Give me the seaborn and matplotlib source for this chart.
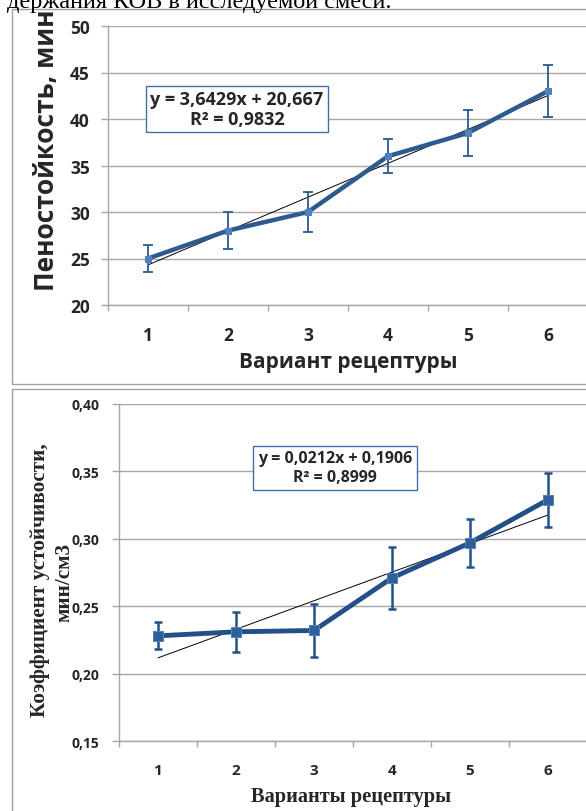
import matplotlib
matplotlib.use("Agg")
import matplotlib.pyplot as plt
import seaborn as sns
from matplotlib.patches import Rectangle
from matplotlib.ticker import FixedLocator, FixedFormatter

# data
variants = [1, 2, 3, 4, 5, 6]
foam = [25, 28, 30, 36, 38.5, 43]            # Пеностойкость, мин
foam_err = [1.5, 2.0, 2.2, 1.8, 2.5, 2.8]
coef = [0.228, 0.231, 0.232, 0.271, 0.297, 0.329]   # Коэффициент устойчивости
coef_err = [0.010, 0.015, 0.020, 0.023, 0.018, 0.020]

top_yticks = [20, 25, 30, 35, 40, 45, 50]
bot_yticks = [0.15, 0.20, 0.25, 0.30, 0.35, 0.40]
bot_ylabels = ["0,15", "0,20", "0,25", "0,30", "0,35", "0,40"]

eq_top = "y = 3,6429x + 20,667\nR² = 0,9832"
eq_bot = "y = 0,0212x + 0,1906\nR² = 0,8999"
caption = "держания КОВ в исследуемой смеси."

sns.set_style("white")
plt.rcParams['font.family'] = ['Open Sans', 'DejaVu Sans']

W, H = 586, 812
fig = plt.figure(figsize=(W / 100, H / 100), dpi=100)

def fx(px):
    return px / W

def fy(py):
    return 1 - py / H

GRID = "#a6a6a6"

# chart area frames
for (x0, y0, x1, y1) in [(12, 10, 590, 385), (12, 390, 590, 815)]:
    fig.patches.append(Rectangle((fx(x0), fy(y1)), fx(x1 - x0), (y1 - y0) / H,
                                 transform=fig.transFigure, fill=False,
                                 ec="#a0a0a0", lw=1.0))

fig.text(fx(7), fy(8), caption, family="Liberation Serif", fontsize=17.5,
         va="baseline", ha="left", color="black")


def style_axes(ax, lab_size, lab_pad, ylab_size, ylab_pad):
    ax.set_xlim(0.5, 6.5)
    for s in ["top", "right"]:
        ax.spines[s].set_visible(False)
    for s in ["left", "bottom"]:
        ax.spines[s].set_color(GRID)
        ax.spines[s].set_linewidth(1.0)
    ax.xaxis.set_major_locator(FixedLocator(variants))
    ax.xaxis.set_minor_locator(FixedLocator([v + 0.5 for v in range(0, 7)]))
    ax.tick_params(axis="x", which="major", length=0, pad=lab_pad,
                   labelsize=lab_size)
    ax.tick_params(axis="x", which="minor", length=4, width=1, color=GRID,
                   direction="out", bottom=True)
    ax.tick_params(axis="y", length=5, width=1, color=GRID, direction="out",
                   left=True, pad=ylab_pad, labelsize=ylab_size)
    ax.yaxis.grid(True, color=GRID, lw=1.0)
    ax.set_axisbelow(True)
    for t in ax.get_xticklabels() + ax.get_yticklabels():
        t.set_fontweight("bold")
    ax.set_xlabel("")
    ax.set_ylabel("")


# ---- top chart ----
ax1 = fig.add_axes([fx(108), fy(306), fx(480), (306 - 27) / H])
sns.regplot(x=variants, y=foam, ax=ax1, scatter=False, ci=None, truncate=True,
            color="black", line_kws={"lw": 0.7})
ax1.errorbar(variants, foam, yerr=foam_err, fmt="none", ecolor="#2b5a8e",
             elinewidth=1.3, capsize=3.5, capthick=1.3)
sns.lineplot(x=variants, y=foam, ax=ax1, color="#2e5b8f", lw=3.2, marker="s",
             markersize=5, markerfacecolor="#4f81bd", markeredgecolor="#4f81bd")
ax1.set_ylim(20, 50)
ax1.yaxis.set_major_locator(FixedLocator(top_yticks))
style_axes(ax1, 12.5, 15, 12.5, 8)

fig.text(fx(47), fy(150), "Пеностойкость, мин", rotation=90, fontsize=19,
         fontweight="bold", ha="center", va="center")
fig.text(fx(348), fy(363), "Вариант рецептуры", fontsize=15,
         fontweight="bold", ha="center", va="center")
fig.text(fx(237), fy(110), eq_top, fontsize=13, fontweight="bold",
         ha="center", va="center", linespacing=1.15,
         bbox=dict(boxstyle="square,pad=0.22", fc="white", ec="#3e6fa8", lw=1.0))

# ---- bottom chart ----
ax2 = fig.add_axes([fx(119), fy(742), fx(468), (742 - 405) / H])
sns.regplot(x=variants, y=coef, ax=ax2, scatter=False, ci=None, truncate=True,
            color="black", line_kws={"lw": 0.7})
ax2.errorbar(variants, coef, yerr=coef_err, fmt="none", ecolor="#24508a",
             elinewidth=1.8, capsize=3, capthick=1.8)
sns.lineplot(x=variants, y=coef, ax=ax2, color="#24508a", lw=3.5, marker="s",
             markersize=6.5, markerfacecolor="#2f5f98", markeredgecolor="#4f81bd")
ax2.set_ylim(0.15, 0.40)
ax2.yaxis.set_major_locator(FixedLocator(bot_yticks))
ax2.yaxis.set_major_formatter(FixedFormatter(bot_ylabels))
style_axes(ax2, 11, 16, 10, 9)

# y label of the lower chart in two separate lines
fig.text(fx(40), fy(580), "Коэффициент устойчивости,", rotation=90,
         family="Liberation Serif", fontsize=15.3, fontweight="bold",
         ha="center", va="center")
fig.text(fx(64), fy(582), "мин/см3", rotation=90,
         family="Liberation Serif", fontsize=15.3, fontweight="bold",
         ha="center", va="center")
fig.text(fx(351), fy(797), "Варианты рецептуры", family="Liberation Serif",
         fontsize=14.7, fontweight="bold", ha="center", va="center")
fig.text(fx(335), fy(469), eq_bot, fontsize=11.5, fontweight="bold",
         ha="center", va="center", linespacing=1.25,
         bbox=dict(boxstyle="square,pad=0.28", fc="white", ec="#3e6fa8", lw=1.0))

fig.savefig("out.png", dpi=100)
